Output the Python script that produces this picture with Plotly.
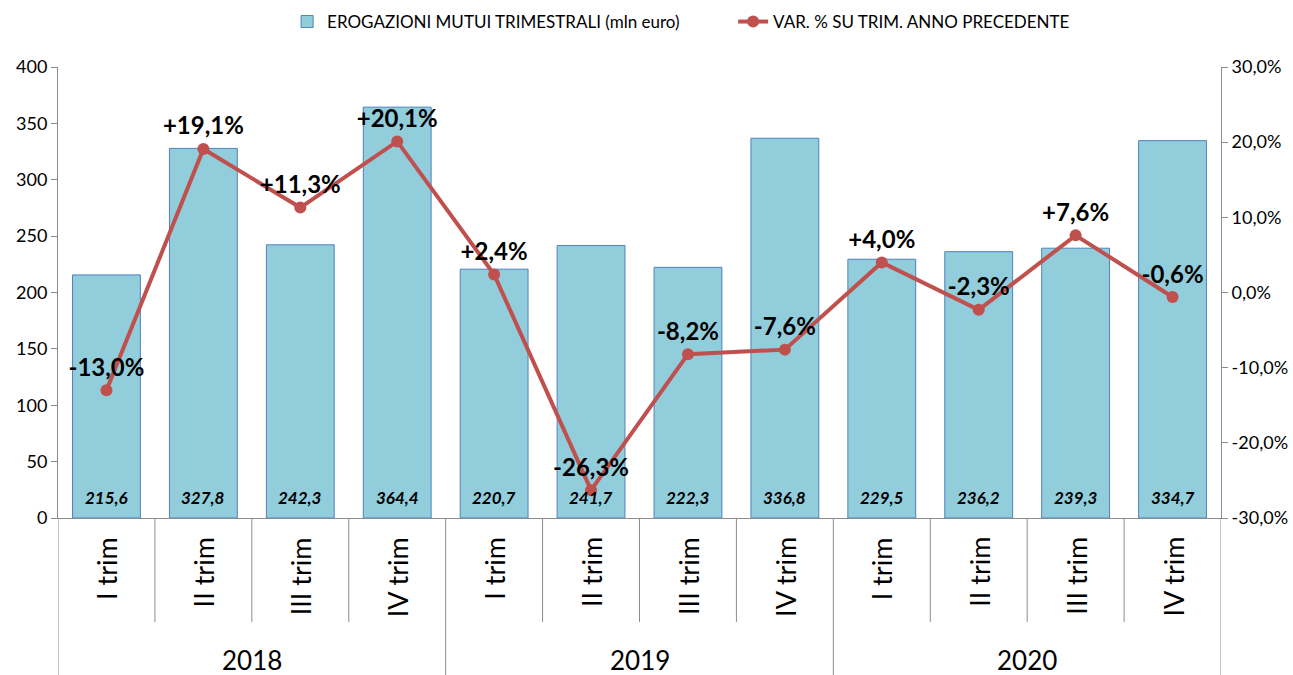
import plotly.graph_objects as go

years = ["2018", "2019", "2020"]
quarters = ["I trim", "II trim", "III trim", "IV trim"]
erogazioni = [215.6, 327.8, 242.3, 364.4, 220.7, 241.7, 222.3, 336.8, 229.5, 236.2, 239.3, 334.7]
variazione = [-13.0, 19.1, 11.3, 20.1, 2.4, -26.3, -8.2, -7.6, 4.0, -2.3, 7.6, -0.6]
left_ticks = [0, 50, 100, 150, 200, 250, 300, 350, 400]
right_ticks = [-30, -20, -10, 0, 10, 20, 30]

FONT = "Lato, 'Open Sans', sans-serif"
AXIS_COL = "#8C8C8C"

cats = [f"{q} {y}" for y in years for q in quarters]
n = len(cats)

bar_txt = [f"{v:.1f}".replace(".", ",") for v in erogazioni]
pct_txt = [f"{v:+.1f}%".replace(".", ",") for v in variazione]
right_tick_txt = [f"{v:.1f}%".replace(".", ",") for v in right_ticks]

fig = go.Figure()
fig.add_trace(go.Bar(
    x=cats, y=erogazioni, name="EROGAZIONI MUTUI TRIMESTRALI (mln euro)",
    marker=dict(color="#92CDDC", line=dict(color="#4F81BD", width=1)),
    yaxis="y",
))
fig.add_trace(go.Scatter(
    x=cats, y=variazione, name="VAR. % SU TRIM. ANNO PRECEDENTE",
    mode="lines+markers+text", yaxis="y2",
    line=dict(color="#C0504D", width=4),
    marker=dict(color="#C0504D", size=12),
    text=pct_txt, textposition="top center",
    textfont=dict(family=FONT, size=24, color="black", weight="bold"),
))

annotations = []
for c, t in zip(cats, bar_txt):
    annotations.append(dict(
        x=c, y=0, xref="x", yref="y", text=f"<b><i>{t}</i></b>", showarrow=False,
        yanchor="middle", yshift=21, font=dict(family=FONT, size=17, color="black"),
    ))
for i, c in enumerate(cats):
    annotations.append(dict(
        x=c, y=0, xref="x", yref="y", text=quarters[i % 4], showarrow=False,
        textangle=-90, yanchor="top", yshift=-17,
        font=dict(family=FONT, size=27, color="black"),
    ))
for j, y in enumerate(years):
    annotations.append(dict(
        x=j * 4 + 1.5, y=0, xref="x", yref="y", text=y, showarrow=False,
        yanchor="middle", yshift=-142,
        font=dict(family=FONT, size=26, color="black"),
    ))

plot_h = 675 - 67 - 157
shapes = []
for k in range(n + 1):
    xb = k - 0.5
    y1 = -157 / plot_h if k % 4 == 0 else -104 / plot_h
    shapes.append(dict(type="line", xref="x", yref="paper", x0=xb, x1=xb, y0=0, y1=y1,
                       line=dict(color=AXIS_COL, width=1)))

fig.update_layout(
    width=1293, height=675,
    margin=dict(l=58, r=72, t=67, b=157, autoexpand=False),
    paper_bgcolor="white", plot_bgcolor="white",
    separators=",.",
    font=dict(family=FONT, size=18, color="black"),
    bargap=0.3,
    showlegend=True,
    legend=dict(orientation="h", x=0.197, xanchor="left", y=1 - 22 / 675, yanchor="middle",
                yref="container", font=dict(family=FONT, size=17), entrywidth=401,
                traceorder="normal"),
    xaxis=dict(type="category", range=[-0.5, n - 0.5], showticklabels=False, ticks="",
               showline=True, linecolor=AXIS_COL, linewidth=1, showgrid=False, zeroline=False),
    yaxis=dict(range=[0, 400], tickvals=left_ticks, ticks="outside", ticklen=6, tickcolor=AXIS_COL,
               showline=True, linecolor=AXIS_COL, linewidth=1, showgrid=False, zeroline=False,
               tickfont=dict(family=FONT, size=18)),
    yaxis2=dict(range=[-30, 30], tickvals=right_ticks, ticktext=right_tick_txt,
                overlaying="y", side="right", ticks="outside", ticklen=6, tickcolor=AXIS_COL,
                showline=True, linecolor=AXIS_COL, linewidth=1, showgrid=False, zeroline=False,
                tickfont=dict(family=FONT, size=18)),
    annotations=annotations, shapes=shapes,
)

fig.write_html("out.html")
